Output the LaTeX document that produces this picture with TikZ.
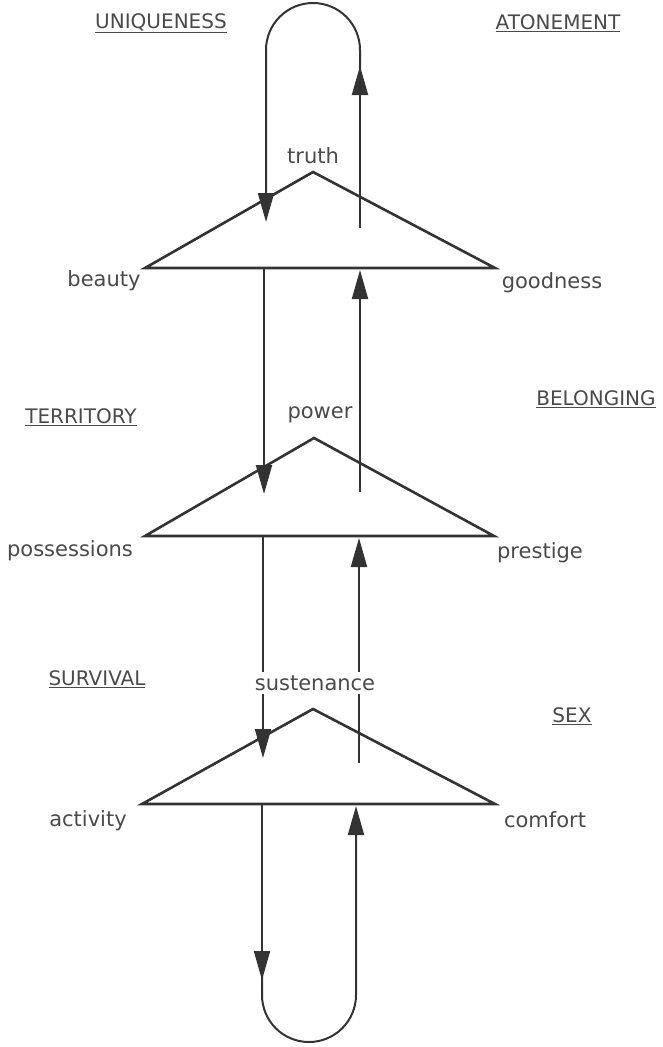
\documentclass[tikz,border=0pt]{standalone}
\usepackage{fontspec}
\setmainfont{DejaVu Sans}
\usetikzlibrary{arrows.meta}
\definecolor{ink}{HTML}{333333}
\definecolor{txt}{HTML}{4A4A4A}
\tikzset{
  tri/.style={draw=ink, line width=2.6pt, line join=miter},
  vline/.style={draw=ink, line width=2pt},
  arr/.style={vline, -{Triangle[length=29pt,width=16pt]}},
  lbl/.style={text=txt, font=\fontsize{21}{24}\selectfont, inner sep=1pt},
  capslbl/.style={text=txt, font=\fontsize{20}{24}\selectfont, inner sep=1pt},
}
\begin{document}
\begin{tikzpicture}[x=1pt,y=-1pt]
\useasboundingbox[fill=white] (0,0) rectangle (662,1047);
% triangles
\coordinate (t1a) at (313,172); \coordinate (t1l) at (145,268); \coordinate (t1r) at (495,268);
\coordinate (t2a) at (314,438); \coordinate (t2l) at (145,536); \coordinate (t2r) at (494,536);
\coordinate (t3a) at (313,709); \coordinate (t3l) at (142,804); \coordinate (t3r) at (495,804);
\draw[tri] (t1l) -- (t1a) -- (t1r) -- cycle;
\draw[tri] (t2l) -- (t2a) -- (t2r) -- cycle;
\draw[tri] (t3l) -- (t3a) -- (t3r) -- cycle;
% top loop
\coordinate (a1) at (360,228); \coordinate (a2) at (360,66);
\coordinate (a3) at (360,50); \coordinate (a4) at (266,222);
\draw[arr] (a1) -- (a2);
\draw[arr] (360,70) -- (a3) arc[start angle=0,end angle=-180,radius=47] -- (a4);
% between top and middle
\coordinate (b1) at (264,268); \coordinate (b2) at (264,494);
\coordinate (b3) at (360,492); \coordinate (b4) at (360,270);
\draw[arr] (b1) -- (b2);
\draw[arr] (b3) -- (b4);
% between middle and bottom
\coordinate (c1) at (263,536); \coordinate (c2) at (263,758);
\coordinate (c3) at (359,763); \coordinate (c4) at (359,538);
\draw[arr] (c1) -- (c2);
\draw[arr] (c3) -- (c4);
% bottom loop
\coordinate (d1) at (262,804); \coordinate (d2) at (262,980);
\coordinate (d3) at (262,995); \coordinate (d4) at (356,806);
\draw[arr] (d1) -- (d2);
\draw[arr] (262,975) -- (d3) arc[start angle=180,end angle=0,radius=47] -- (d4);
% labels
\node[capslbl] (uniq) at (161,23) {\underline{UNIQUENESS}};
\node[capslbl] (aton) at (558,23) {\underline{ATONEMENT}};
\node[lbl] (truth) at (313,156) {truth};
\node[lbl] (beauty) at (104,281) {beauty};
\node[lbl] (good) at (552,283) {goodness};
\node[capslbl] (terr) at (81,417) {\underline{TERRITORY}};
\node[lbl] (power) at (320,415) {power};
\node[capslbl] (belong) at (596,399) {\underline{BELONGING}};
\node[lbl] (poss) at (70,551) {possessions};
\node[lbl] (prest) at (540,553) {prestige};
\node[capslbl] (surv) at (97,679) {\underline{SURVIVAL}};
\node[lbl, fill=white, inner sep=3pt] (sust) at (315,683) {sustenance};
\node[capslbl] (sex) at (572,716) {\underline{SEX}};
\node[lbl] (act) at (88,821) {activity};
\node[lbl] (comf) at (545,820) {comfort};
\end{tikzpicture}
\end{document}
